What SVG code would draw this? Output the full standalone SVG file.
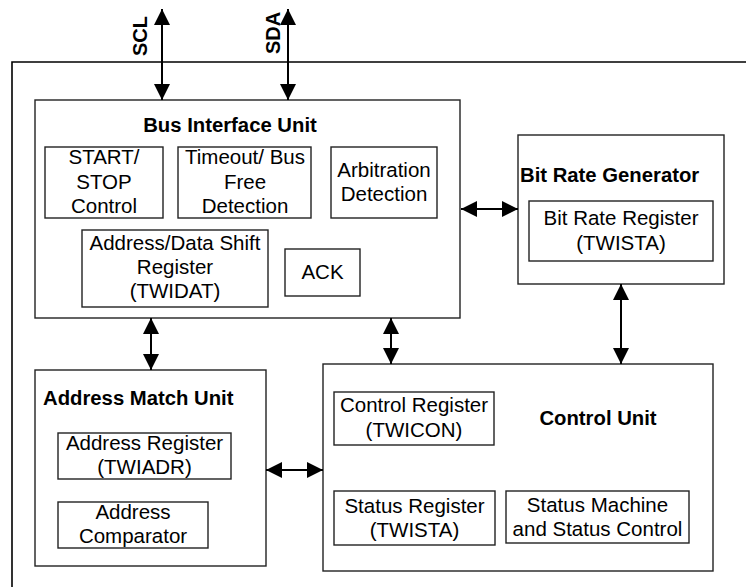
<svg xmlns="http://www.w3.org/2000/svg" width="746" height="587" viewBox="0 0 746 587">
<style>
.box{fill:#fff;stroke:#222;stroke-width:1.4}
.frame{fill:none;stroke:#000;stroke-width:1.6}
.t{font-family:"Liberation Sans",Arial,sans-serif;font-size:20.5px;fill:#000;text-anchor:middle}
.b{font-family:"Liberation Sans",Arial,sans-serif;font-size:20.3px;font-weight:bold;fill:#000}
.c{text-anchor:middle}
.conn line{stroke:#000;stroke-width:2;marker-start:url(#ah);marker-end:url(#ah)}
</style>
<defs>
<marker id="ah" markerUnits="userSpaceOnUse" markerWidth="17" markerHeight="17" viewBox="0 0 17 17" refX="16" refY="8.5" orient="auto-start-reverse">
<path d="M0,0.5 L16,8.5 L0,16.5 z" fill="#000"/>
</marker>
</defs>
<rect width="746" height="587" fill="#fff"/>
<path class="frame" d="M746,62 L12,62 L12,587"/>

<g id="bus-interface-unit">
<rect class="box" x="35" y="100" width="425" height="218"/>
<text class="b c" x="230" y="132">Bus Interface Unit</text>
</g>
<g id="start-stop-control">
<rect class="box" x="45" y="147" width="118" height="71"/>
<text class="t" x="104" y="164">START/</text>
<text class="t" x="104" y="189">STOP</text>
<text class="t" x="104" y="213">Control</text>
</g>
<g id="timeout-detection">
<rect class="box" x="178" y="147" width="133" height="71"/>
<text class="t" x="245" y="164">Timeout/ Bus</text>
<text class="t" x="245" y="189">Free</text>
<text class="t" x="245" y="213">Detection</text>
</g>
<g id="arbitration-detection">
<rect class="box" x="331" y="147" width="106" height="71"/>
<text class="t" x="384" y="177">Arbitration</text>
<text class="t" x="384" y="201">Detection</text>
</g>
<g id="shift-register">
<rect class="box" x="82" y="230" width="186" height="77"/>
<text class="t" x="175" y="250">Address/Data Shift</text>
<text class="t" x="175" y="274">Register</text>
<text class="t" x="175" y="298">(TWIDAT)</text>
</g>
<g id="ack">
<rect class="box" x="285" y="249" width="75" height="47"/>
<text class="t" x="322.5" y="279">ACK</text>
</g>

<g id="bit-rate-generator">
<rect class="box" x="518" y="135" width="206" height="149"/>
<text class="b" x="520" y="182">Bit Rate Generator</text>
</g>
<g id="bit-rate-register">
<rect class="box" x="529" y="201" width="184" height="60"/>
<text class="t" x="621" y="225">Bit Rate Register</text>
<text class="t" x="621" y="250">(TWISTA)</text>
</g>

<g id="address-match-unit">
<rect class="box" x="35" y="370" width="231" height="196"/>
<text class="b" x="43" y="405">Address Match Unit</text>
</g>
<g id="address-register">
<rect class="box" x="58" y="433" width="173" height="46"/>
<text class="t" x="144.5" y="450">Address Register</text>
<text class="t" x="144.5" y="474">(TWIADR)</text>
</g>
<g id="address-comparator">
<rect class="box" x="58" y="502" width="150" height="46"/>
<text class="t" x="133" y="519">Address</text>
<text class="t" x="133" y="543">Comparator</text>
</g>

<g id="control-unit">
<rect class="box" x="323" y="364" width="390" height="207"/>
<text class="b c" x="598" y="425">Control Unit</text>
</g>
<g id="control-register">
<rect class="box" x="334" y="392" width="160" height="53"/>
<text class="t" x="414" y="412">Control Register</text>
<text class="t" x="414" y="437">(TWICON)</text>
</g>
<g id="status-register">
<rect class="box" x="334" y="491" width="161" height="54"/>
<text class="t" x="414.5" y="513">Status Register</text>
<text class="t" x="414.5" y="537">(TWISTA)</text>
</g>
<g id="status-machine">
<rect class="box" x="506" y="491" width="183" height="52"/>
<text class="t" x="597.5" y="512">Status Machine</text>
<text class="t" x="597.5" y="536">and Status Control</text>
</g>

<g id="signal-labels">
<text class="b c" transform="translate(147,36) rotate(-90)" style="font-size:20px">SCL</text>
<text class="b c" transform="translate(280,33) rotate(-90)" style="font-size:20px">SDA</text>
</g>

<g id="connectors" class="conn">
<line x1="162" y1="9" x2="162" y2="100"/>
<line x1="288" y1="9" x2="288" y2="100"/>
<line x1="461" y1="209" x2="518" y2="209"/>
<line x1="151" y1="318" x2="151" y2="370"/>
<line x1="391" y1="318" x2="391" y2="364"/>
<line x1="266" y1="470" x2="323" y2="470"/>
<line x1="621" y1="284" x2="621" y2="364"/>
</g>
</svg>
